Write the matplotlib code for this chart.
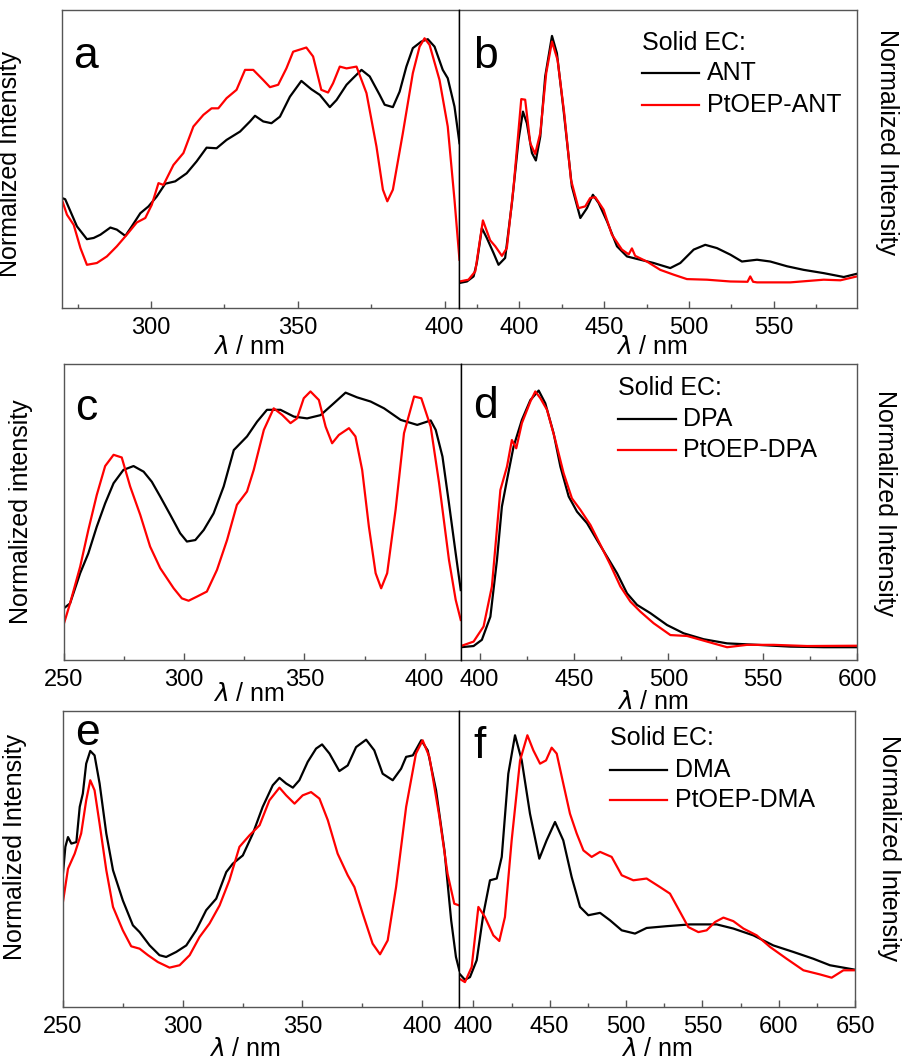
import matplotlib.pyplot as plt
from matplotlib.ticker import MultipleLocator

plt.rcParams['font.family'] = ['Liberation Sans', 'DejaVu Sans']
plt.rcParams['mathtext.fontset'] = 'dejavusans'

# ---- data (wavelength nm, normalized intensity) ----
# a: absorption, ANT
a_ant_x = [269.6, 270.7, 274.7, 278.1, 280.4, 282.7, 286.1, 288.3, 291.2, 293.4, 296.3, 299.1, 301.9,
           304.8, 308.2, 312.1, 315.5, 318.9, 322.3, 325.7, 330.3, 333.7, 335.4, 338.2, 341.0, 343.9,
           347.3, 351.2, 354.6, 357.5, 360.9, 363.2, 366.6, 368.8, 371.7, 374.5, 377.9, 379.6, 382.4,
           384.7, 387.0, 389.2, 392.1, 394.3, 396.6, 399.4, 401.1, 403.4, 405.1]
a_ant_y = [0.369, 0.365, 0.274, 0.231, 0.235, 0.246, 0.270, 0.263, 0.242, 0.274, 0.318, 0.341, 0.374,
           0.417, 0.425, 0.452, 0.492, 0.538, 0.536, 0.564, 0.592, 0.626, 0.645, 0.626, 0.620, 0.642,
           0.709, 0.762, 0.734, 0.715, 0.674, 0.698, 0.749, 0.771, 0.799, 0.777, 0.715, 0.682, 0.674,
           0.726, 0.810, 0.872, 0.894, 0.902, 0.877, 0.799, 0.771, 0.676, 0.553]
# a: absorption, PtOEP-ANT
a_pt_x = [269.6, 271.3, 273.6, 275.9, 278.1, 281.5, 284.9, 288.3, 291.7, 295.1, 298.0, 300.2, 302.5,
          304.2, 307.6, 311.0, 314.4, 317.8, 320.6, 322.9, 325.7, 329.1, 332.0, 334.8, 338.2, 340.5,
          343.3, 346.1, 348.4, 352.9, 355.2, 358.0, 360.3, 362.0, 364.3, 366.6, 370.0, 373.4, 376.8,
          379.0, 380.5, 382.4, 385.8, 389.2, 391.5, 393.2, 394.9, 398.3, 401.1, 403.4, 405.1]
a_pt_y = [0.363, 0.313, 0.279, 0.201, 0.145, 0.151, 0.173, 0.207, 0.246, 0.287, 0.302, 0.346, 0.419,
          0.413, 0.480, 0.520, 0.609, 0.648, 0.670, 0.670, 0.704, 0.732, 0.799, 0.799, 0.765, 0.741,
          0.749, 0.804, 0.860, 0.874, 0.844, 0.732, 0.723, 0.754, 0.810, 0.804, 0.810, 0.721, 0.542,
          0.397, 0.358, 0.397, 0.587, 0.788, 0.877, 0.905, 0.883, 0.765, 0.609, 0.363, 0.162]

# b: emission, ANT
b_ant_x = [364.8, 369.2, 373.1, 375.0, 378.0, 380.9, 384.9, 387.8, 391.7, 395.7, 399.6, 402.2, 404.5,
           407.5, 409.8, 412.4, 415.3, 419.3, 422.2, 426.1, 431.0, 436.0, 439.9, 443.4, 446.8, 451.7,
           457.6, 463.5, 471.3, 479.2, 489.0, 494.9, 502.8, 509.6, 516.5, 524.4, 531.2, 540.1, 547.9,
           557.8, 567.6, 579.4, 591.2, 599.0]
b_ant_y = [0.084, 0.089, 0.106, 0.151, 0.268, 0.235, 0.184, 0.145, 0.168, 0.352, 0.564, 0.659, 0.620,
           0.520, 0.495, 0.575, 0.777, 0.913, 0.855, 0.665, 0.408, 0.302, 0.335, 0.380, 0.352, 0.291,
           0.207, 0.173, 0.162, 0.151, 0.134, 0.151, 0.196, 0.212, 0.201, 0.179, 0.156, 0.162, 0.156,
           0.140, 0.128, 0.117, 0.104, 0.115]
# b: emission, PtOEP-ANT
b_pt_x = [364.8, 370.1, 374.1, 378.6, 382.9, 385.9, 389.8, 392.7, 396.7, 401.2, 403.5, 406.5, 409.4,
          412.4, 415.9, 419.3, 422.6, 426.5, 430.5, 434.9, 438.9, 441.8, 444.8, 449.7, 454.6, 460.5,
          464.5, 466.4, 468.3, 475.2, 483.1, 490.9, 498.8, 510.6, 524.4, 534.5, 536.1, 537.8, 540.1,
          559.7, 579.4, 589.2, 599.0]
b_pt_y = [0.089, 0.095, 0.123, 0.294, 0.227, 0.207, 0.175, 0.201, 0.408, 0.701, 0.699, 0.553, 0.517,
          0.587, 0.788, 0.894, 0.832, 0.654, 0.430, 0.335, 0.341, 0.369, 0.372, 0.330, 0.246, 0.196,
          0.180, 0.200, 0.175, 0.156, 0.128, 0.112, 0.097, 0.095, 0.089, 0.088, 0.106, 0.088, 0.086,
          0.086, 0.095, 0.093, 0.106]

# c: absorption, DPA
c_dpa_x = [250.0, 252.5, 256.7, 260.1, 263.6, 267.1, 270.6, 274.7, 278.9, 283.1, 286.5, 290.0, 294.2,
           298.3, 301.1, 304.6, 308.1, 312.2, 316.4, 320.6, 326.1, 330.3, 334.4, 340.0, 345.6, 351.1,
           356.7, 362.2, 367.1, 371.9, 377.5, 383.1, 390.0, 396.9, 402.5, 404.6, 407.4, 410.1, 412.9, 415.0]
c_dpa_y = [0.175, 0.191, 0.293, 0.360, 0.450, 0.529, 0.597, 0.642, 0.655, 0.636, 0.602, 0.552, 0.490,
           0.428, 0.400, 0.405, 0.439, 0.495, 0.586, 0.709, 0.755, 0.805, 0.845, 0.845, 0.822, 0.816,
           0.827, 0.867, 0.903, 0.887, 0.873, 0.850, 0.811, 0.794, 0.809, 0.777, 0.687, 0.529, 0.360, 0.236]
# c: absorption, PtOEP-DPA
c_pt_x = [250.0, 252.5, 256.7, 260.1, 263.6, 267.1, 270.6, 274.0, 277.5, 281.7, 285.8, 290.0, 295.6,
          299.0, 301.8, 305.3, 309.4, 313.6, 317.8, 321.9, 326.1, 328.9, 333.1, 337.2, 340.7, 344.2,
          346.9, 349.7, 352.5, 356.0, 358.8, 361.5, 364.3, 368.5, 371.2, 374.0, 376.8, 379.6, 381.9,
          384.4, 387.9, 391.4, 395.6, 398.6, 402.5, 406.0, 410.1, 412.9, 415.0]
c_pt_y = [0.124, 0.191, 0.315, 0.439, 0.557, 0.655, 0.693, 0.684, 0.586, 0.490, 0.383, 0.310, 0.242,
          0.208, 0.200, 0.214, 0.231, 0.304, 0.405, 0.524, 0.569, 0.642, 0.777, 0.850, 0.828, 0.800,
          0.816, 0.884, 0.907, 0.878, 0.788, 0.732, 0.760, 0.783, 0.755, 0.642, 0.450, 0.293, 0.242,
          0.293, 0.507, 0.766, 0.890, 0.884, 0.788, 0.597, 0.338, 0.203, 0.135]

# d: emission, DPA
d_dpa_x = [390.1, 396.8, 401.2, 405.7, 409.2, 411.8, 414.5, 418.0, 422.4, 426.9, 431.3, 434.8, 439.2,
           442.8, 447.2, 451.6, 456.9, 462.2, 467.5, 472.8, 478.1, 483.4, 490.5, 499.3, 508.1, 518.7,
           531.1, 547.0, 564.7, 582.3, 600.0]
d_dpa_y = [0.043, 0.047, 0.068, 0.146, 0.338, 0.518, 0.608, 0.721, 0.811, 0.878, 0.910, 0.867, 0.766,
           0.653, 0.552, 0.501, 0.462, 0.405, 0.349, 0.293, 0.225, 0.186, 0.158, 0.118, 0.090, 0.070,
           0.056, 0.051, 0.045, 0.043, 0.043]
# d: emission, PtOEP-DPA
d_pt_x = [390.1, 396.8, 402.1, 406.5, 411.0, 414.5, 417.1, 419.4, 422.4, 426.9, 429.5, 432.2, 435.7,
          440.1, 444.5, 448.9, 453.4, 458.7, 464.0, 469.3, 474.6, 479.9, 485.2, 492.2, 501.1, 509.9,
          520.5, 531.1, 541.7, 555.8, 573.5, 600.0]
d_pt_y = [0.047, 0.062, 0.113, 0.248, 0.574, 0.653, 0.743, 0.715, 0.800, 0.873, 0.907, 0.884, 0.845,
          0.743, 0.631, 0.546, 0.507, 0.456, 0.389, 0.321, 0.248, 0.197, 0.163, 0.124, 0.084, 0.081,
          0.062, 0.043, 0.051, 0.051, 0.047, 0.048]

# e: absorption, DMA
e_dma_x = [250.0, 251.0, 252.1, 253.5, 255.6, 257.0, 258.3, 259.7, 261.4, 263.2, 265.3, 268.1, 270.9,
           275.0, 279.2, 282.0, 286.2, 290.3, 293.1, 297.3, 301.5, 305.6, 309.8, 314.0, 318.2, 320.9,
           325.1, 329.3, 333.4, 337.6, 340.4, 343.2, 346.0, 348.7, 352.2, 355.7, 358.2, 361.3, 365.4,
           368.9, 372.4, 376.6, 380.0, 383.5, 387.7, 391.2, 393.3, 396.1, 399.6, 402.3, 405.8, 409.3,
           412.1, 414.1, 415.5]
e_dma_y = [0.450, 0.541, 0.574, 0.552, 0.557, 0.676, 0.721, 0.822, 0.865, 0.850, 0.755, 0.586, 0.462,
           0.360, 0.276, 0.253, 0.208, 0.175, 0.169, 0.186, 0.208, 0.259, 0.327, 0.366, 0.456, 0.484,
           0.512, 0.586, 0.676, 0.749, 0.774, 0.755, 0.741, 0.766, 0.828, 0.873, 0.887, 0.856, 0.797,
           0.816, 0.878, 0.903, 0.867, 0.788, 0.766, 0.805, 0.845, 0.850, 0.901, 0.867, 0.732, 0.529,
           0.293, 0.169, 0.124]
# e: absorption, PtOEP-DMA
e_pt_x = [250.0, 252.1, 254.9, 257.6, 259.7, 261.4, 263.2, 265.3, 268.1, 270.9, 275.0, 278.5, 282.0,
          285.5, 289.6, 294.5, 298.7, 302.9, 307.0, 311.2, 315.4, 319.5, 323.7, 327.9, 332.1, 336.2,
          340.4, 343.2, 346.7, 350.1, 353.6, 357.1, 360.6, 364.7, 368.9, 371.7, 375.2, 379.3, 382.4,
          385.6, 389.1, 393.3, 397.4, 400.2, 403.0, 407.2, 410.6, 413.4, 415.5]
e_pt_y = [0.355, 0.467, 0.518, 0.586, 0.698, 0.766, 0.732, 0.619, 0.462, 0.338, 0.259, 0.205, 0.197,
          0.175, 0.152, 0.133, 0.141, 0.175, 0.236, 0.282, 0.343, 0.428, 0.541, 0.580, 0.614, 0.698,
          0.741, 0.715, 0.687, 0.715, 0.726, 0.704, 0.631, 0.518, 0.445, 0.405, 0.315, 0.214, 0.178,
          0.225, 0.405, 0.676, 0.856, 0.901, 0.845, 0.642, 0.450, 0.349, 0.343]

# f: emission, DMA
f_dma_x = [390.8, 394.5, 397.8, 402.2, 406.6, 410.9, 415.3, 418.6, 422.9, 427.3, 431.7, 437.1, 443.2,
           448.0, 453.5, 458.9, 464.4, 469.9, 475.3, 483.0, 489.5, 497.2, 505.9, 513.5, 526.6, 541.9,
           559.4, 570.3, 583.4, 596.5, 609.6, 622.7, 633.6, 650.0]
f_dma_y = [0.113, 0.092, 0.101, 0.158, 0.315, 0.428, 0.434, 0.507, 0.788, 0.918, 0.833, 0.653, 0.501,
           0.563, 0.625, 0.563, 0.439, 0.338, 0.310, 0.318, 0.293, 0.259, 0.248, 0.267, 0.273, 0.279,
           0.279, 0.265, 0.242, 0.208, 0.186, 0.163, 0.141, 0.126]
# f: emission, PtOEP-DMA
f_pt_x = [390.8, 394.5, 398.9, 403.3, 407.6, 413.1, 417.0, 420.7, 425.1, 430.6, 435.4, 439.3, 443.7,
          447.6, 451.3, 454.6, 458.9, 463.3, 467.7, 472.1, 477.5, 483.0, 490.6, 497.2, 504.8, 513.5,
          522.3, 528.8, 535.4, 540.8, 547.4, 552.8, 558.3, 563.8, 570.3, 576.9, 585.6, 594.3, 605.2,
          616.2, 627.1, 634.7, 642.4, 650.0]
f_pt_y = [0.096, 0.084, 0.135, 0.338, 0.304, 0.242, 0.223, 0.304, 0.563, 0.833, 0.918, 0.867, 0.822,
          0.833, 0.876, 0.856, 0.755, 0.653, 0.586, 0.529, 0.507, 0.524, 0.507, 0.445, 0.428, 0.434,
          0.405, 0.383, 0.321, 0.270, 0.253, 0.259, 0.287, 0.302, 0.290, 0.265, 0.242, 0.203, 0.163,
          0.124, 0.110, 0.099, 0.124, 0.124]

fig = plt.figure(figsize=(9.02, 10.61), dpi=100)

# axes rectangles (figure fraction)
rects = {
    'a': [0.0687, 0.7097, 0.4407, 0.2809],
    'b': [0.5094, 0.7097, 0.4407, 0.2809],
    'c': [0.0710, 0.3780, 0.4398, 0.2790],
    'd': [0.5108, 0.3780, 0.4394, 0.2790],
    'e': [0.0698, 0.0509, 0.4394, 0.2790],
    'f': [0.5092, 0.0509, 0.4387, 0.2790],
}

panels = {
    'a': (a_ant_x, a_ant_y, a_pt_x, a_pt_y, (269.6, 405.1), [300, 350, 400]),
    'b': (b_ant_x, b_ant_y, b_pt_x, b_pt_y, (364.8, 599.0), [400, 450, 500, 550]),
    'c': (c_dpa_x, c_dpa_y, c_pt_x, c_pt_y, (250, 415), [250, 300, 350, 400]),
    'd': (d_dpa_x, d_dpa_y, d_pt_x, d_pt_y, (390, 600), [400, 450, 500, 550, 600]),
    'e': (e_dma_x, e_dma_y, e_pt_x, e_pt_y, (250, 415.5), [250, 300, 350, 400]),
    'f': (f_dma_x, f_dma_y, f_pt_x, f_pt_y, (390.8, 650), [400, 450, 500, 550, 600, 650]),
}

# per-panel text placement (axes fraction)
letter_pos = {'a': (0.028, 0.805), 'b': (0.034, 0.805), 'c': (0.028, 0.81),
              'd': (0.031, 0.818), 'e': (0.03, 0.885), 'f': (0.035, 0.84)}
xlabel_pos = {'a': (0.47, -0.09), 'b': (0.485, -0.09), 'c': (0.465, -0.075),
              'd': (0.485, -0.10), 'e': (0.46, -0.10), 'f': (0.50, -0.10)}
ylabel_text = {'a': 'Normalized Intensity', 'c': 'Normalized intensity', 'e': 'Normalized Intensity'}
ylabel_pos = {'a': (-0.10, 0.483), 'c': (-0.078, 0.50), 'e': (-0.09, 0.54),
              'b': (1.075, 0.557), 'd': (1.07, 0.53), 'f': (1.085, 0.537)}
legend_names = {'b': ('ANT', 'PtOEP-ANT'), 'd': ('DPA', 'PtOEP-DPA'), 'f': ('DMA', 'PtOEP-DMA')}
legend_pos = {  # x_line_start, x_line_end, x_text, y_title, y_row1, y_row2
    'b': (0.458, 0.603, 0.623, 0.889, 0.789, 0.681),
    'd': (0.397, 0.543, 0.561, 0.919, 0.814, 0.709),
    'f': (0.381, 0.524, 0.545, 0.909, 0.800, 0.700),
}

spine_col = '#555555'
for key, (x1, y1, x2, y2, xlim, majors) in panels.items():
    ax = fig.add_axes(rects[key])
    ax.plot(x1, y1, color='black', lw=1.6)
    ax.plot(x2, y2, color='#ff0000', lw=1.6)
    ax.set_xlim(*xlim)
    ax.set_ylim(0, 1)
    ax.set_xticks(majors)
    ax.xaxis.set_minor_locator(MultipleLocator(25))
    ax.set_yticks([])
    ax.tick_params(axis='x', which='major', direction='in', length=5, width=1,
                   color=spine_col, labelsize=17, pad=6.5)
    ax.tick_params(axis='x', which='minor', direction='in', length=3, width=1, color=spine_col)
    for s in ax.spines.values():
        s.set_color(spine_col)
        s.set_linewidth(1.0)
    if key in ('a', 'c', 'e'):
        ax.spines['right'].set_color('black')
        ax.spines['right'].set_zorder(5)
    else:
        ax.spines['left'].set_color('black')
        ax.spines['left'].set_zorder(5)

    ax.text(*letter_pos[key], key, transform=ax.transAxes, fontsize=32, va='baseline', ha='left')

    ax.set_xlabel(r'$\lambda$ / nm', fontsize=18)
    ax.xaxis.set_label_coords(*xlabel_pos[key])

    if key in ylabel_text:
        ax.set_ylabel(ylabel_text[key], fontsize=18)
    else:
        ax.yaxis.set_label_position('right')
        ax.set_ylabel('Normalized Intensity', fontsize=18, rotation=270, va='center')
    ax.yaxis.set_label_coords(*ylabel_pos[key])

    if key in legend_names:
        xs, xe, xt, yt, r1, r2 = legend_pos[key]
        n1, n2 = legend_names[key]
        ax.text(xs, yt, 'Solid EC:', transform=ax.transAxes, fontsize=18, va='center', ha='left')
        ax.plot([xs, xe], [r1, r1], color='black', lw=1.6, transform=ax.transAxes)
        ax.plot([xs, xe], [r2, r2], color='#ff0000', lw=1.6, transform=ax.transAxes)
        ax.text(xt, r1, n1, transform=ax.transAxes, fontsize=18, va='center', ha='left')
        ax.text(xt, r2, n2, transform=ax.transAxes, fontsize=18, va='center', ha='left')

fig.savefig('out.png', dpi=100)
